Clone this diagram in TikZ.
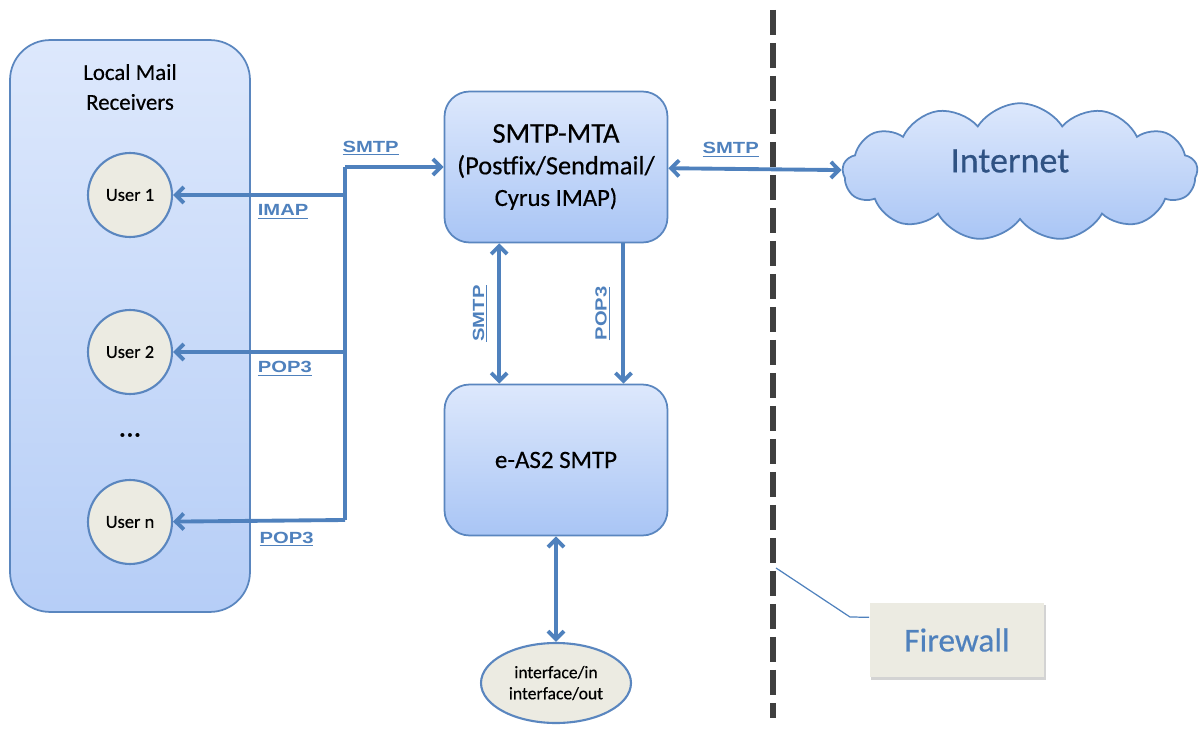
\documentclass[tikz,border=0pt]{standalone}
\usepackage{fontspec}
\setmainfont{Carlito}[FakeBold=0.4]
\newfontfamily\lblfont[FakeStretch=1.25]{Liberation Sans}
\usetikzlibrary{arrows.meta,shapes.geometric,shapes.symbols,shadows,calc}
\definecolor{linkblue}{HTML}{4F81BD}
\definecolor{edgeblue}{HTML}{5A86BF}
\definecolor{boxtop}{HTML}{DDE8FC}
\definecolor{boxbot}{HTML}{A9C5F5}
\definecolor{paper}{HTML}{ECEBE2}
\definecolor{netblue}{HTML}{2F5283}
\definecolor{wallgray}{HTML}{3F3F3F}

\begin{document}
\begin{tikzpicture}[x=0.02cm,y=-0.02cm,
   mtabox/.style={draw=edgeblue,line width=1pt,rounded corners=0.5cm,top color=boxtop,bottom color=boxbot,
     minimum width=4.46cm,minimum height=3.02cm,align=center,font=\fontsize{14}{18}\selectfont},
   user/.style={circle,draw=edgeblue,line width=1.2pt,fill=paper,minimum size=1.68cm,font=\fontsize{10.5}{12}\selectfont},
   link/.style={draw=linkblue,line width=2.2pt,arrows={-Straight Barb[length=1.6mm,width=3.2mm]}},
   twoway/.style={link,arrows={Straight Barb[length=1.6mm,width=3.2mm]-Straight Barb[length=1.6mm,width=3.2mm]}},
   proto/.style={text=linkblue,font=\lblfont\bfseries\fontsize{9.2}{11}\selectfont},
   callout/.style={draw=linkblue,line width=0.7pt}]
   \useasboundingbox (0,0) rectangle (1201,740);
   % local receivers
   \node[draw=edgeblue,line width=1pt,rounded corners=0.8cm,top color=boxtop,bottom color=boxbot!85,
     minimum width=4.8cm,minimum height=11.44cm] (local) at (130,326) {};
   \node[align=center,font=\fontsize{13}{17}\selectfont] (localtxt) at (130,87) {Local Mail\\Receivers};
   \node[user] (u1) at (130,195) {User 1};
   \node[user] (u2) at (130,352) {User 2};
   \node[font=\fontsize{17}{18}\selectfont] (dots) at (130,435) {...};
   \node[user] (un) at (130,522) {User n};
   % servers
   \node[mtabox] (mta) at (556,167) {\fontsize{16.3}{18}\selectfont SMTP-MTA\\\fontsize{15}{18}\selectfont(Postfix/Sendmail/\\Cyrus IMAP)};
   \node[mtabox,font=\fontsize{14.2}{18}\selectfont] (eas) at (556,460) {e-AS2 SMTP};
   \node[ellipse,draw=edgeblue,line width=1.2pt,fill=paper,minimum width=3cm,minimum height=1.6cm,
     align=center,font=\fontsize{10}{12}\selectfont] (iface) at (556,683) {interface/in\\interface/out};
   \node[cloud,cloud puffs=13,cloud puff arc=115,aspect=2.7,draw=edgeblue,line width=1pt,top color=boxtop,bottom color=boxbot,
     minimum width=7.1cm,minimum height=2.75cm] (net) at (1020,172) {};
   \node[text=netblue,font=\fontsize{20.5}{22}\selectfont] (nettxt) at (1010,161) {Internet};
   \node[fill=paper,drop shadow={opacity=0.35,shadow xshift=1pt,shadow yshift=-1.5pt},minimum width=3.5cm,minimum height=1.5cm,
     text=linkblue,font=\fontsize{19}{22}\selectfont] (fw) at (957,640) {Firewall};
   % firewall line
   \draw[wallgray,line width=3.4pt,dash pattern=on 0.5cm off 0.16cm] (773,10) -- (773,718);
   \coordinate (fwtip) at (776,568);
   \draw[callout] (fwtip) -- (850,617) -- ($(fw.north west)!0.2!(fw.south west)$);
   % bus to users
   \coordinate (bt) at (345,167);
   \coordinate (b1) at (345,195);
   \coordinate (b2) at (345,352);
   \coordinate (bn) at (345,520);
   \draw[link,-] (bt) -- (bn);
   \draw[link] (bt) -- (mta) node[proto,pos=0.26,above=2pt] {\underline{SMTP}};
   \draw[link] (b1) -- (u1) node[proto,pos=0.36,below=1pt] {\underline{IMAP}};
   \draw[link] (b2) -- (u2) node[proto,pos=0.35,below=1pt] {\underline{POP3}};
   \draw[link] (bn) -- (un) node[proto,pos=0.34,below=2pt] {\underline{POP3}};
   % mta links
   \draw[twoway] (mta) -- (net) node[proto,pos=0.36,above=2pt] {\underline{SMTP}};
   \coordinate (s1) at ($(mta.south west)!0.247!(mta.south east)$);
   \coordinate (s2) at ($(mta.south west)!0.8!(mta.south east)$);
   \draw[twoway] (s1) -- (s1 |- eas.north) node[proto,midway,rotate=90,above=2pt] {\underline{SMTP}};
   \draw[link] (s2) -- (s2 |- eas.north) node[proto,midway,rotate=90,above=3pt] {\underline{POP3}};
   \draw[twoway] (eas) -- (iface);
\end{tikzpicture}
\end{document}
